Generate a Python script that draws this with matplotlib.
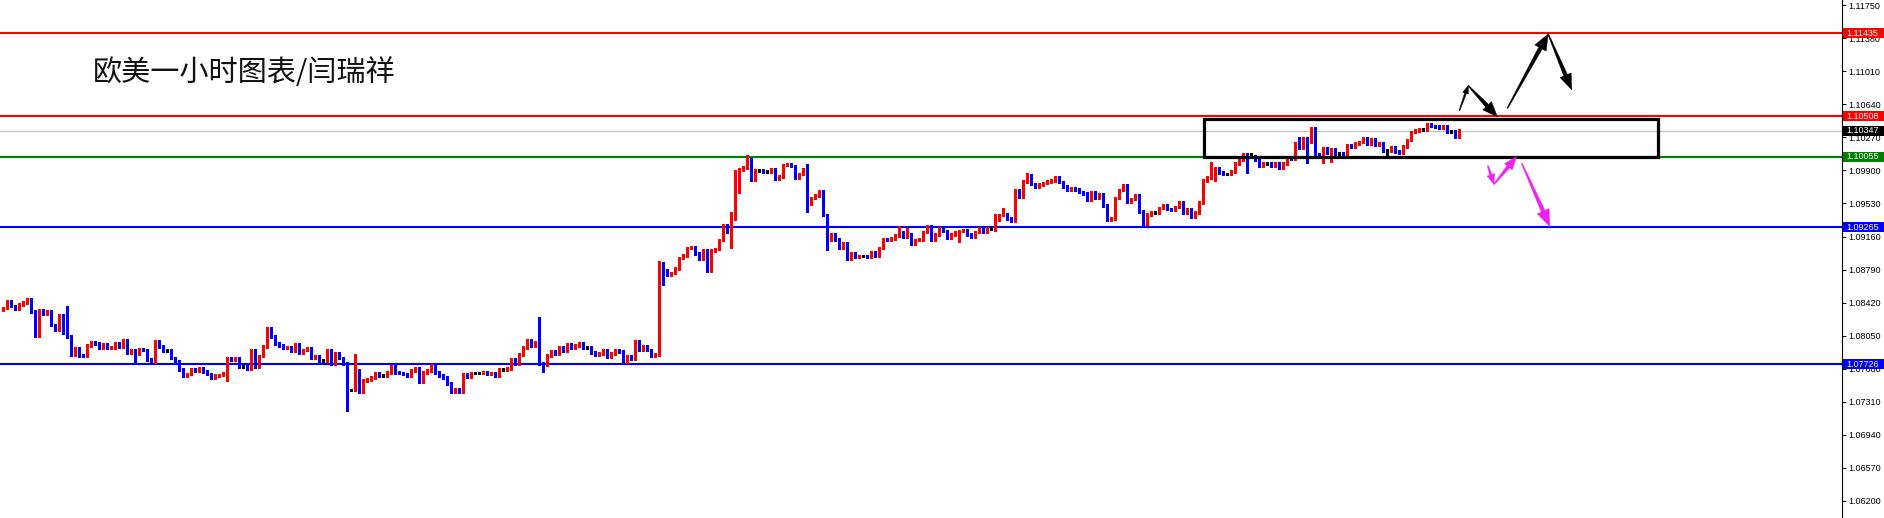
import numpy as np
import matplotlib
matplotlib.use("Agg")
import matplotlib.pyplot as plt
from matplotlib.patches import Polygon, Rectangle
from matplotlib.transforms import IdentityTransform, blended_transform_factory

plt.rcParams['font.family'] = ['Noto Sans CJK SC', 'DejaVu Sans']

title = "欧美一小时图表/闫瑞祥"

# EURUSD H1 closes in pips (10836 -> 1.0836), open = previous close
first_open = 10834
closes_a = [10836, 10843, 10838, 10835, 10840, 10842, 10846, 10832, 10805, 10833,
            10830, 10832, 10817, 10812, 10828, 10808, 10804, 10784, 10791, 10783,
            10782, 10794, 10797, 10796, 10792, 10795, 10791, 10792, 10796, 10793,
            10800, 10786, 10789, 10785, 10790, 10789, 10778, 10776, 10798, 10793,
            10788, 10788, 10780, 10776, 10767, 10760, 10762, 10767, 10766, 10768,
            10765, 10762, 10758, 10760, 10761, 10763, 10780, 10778, 10779, 10770,
            10770, 10768, 10789, 10770, 10782, 10793, 10813, 10804, 10796, 10794,
            10791, 10792, 10788, 10795, 10786]
closes_b = [10789, 10791, 10780, 10782, 10777, 10777, 10789, 10774, 10785, 10780,
            10774, 10744, 10744, 10766, 10742, 10755, 10756, 10758, 10763, 10760,
            10760, 10764, 10771, 10764, 10763, 10762, 10760, 10766, 10768, 10753,
            10764, 10766, 10772, 10764, 10760, 10758, 10751, 10742, 10745, 10742,
            10762, 10759, 10763, 10763, 10763, 10764, 10762, 10763, 10760, 10767,
            10767, 10768, 10778, 10774, 10784, 10792, 10800, 10794, 10797, 10774,
            10772, 10783, 10787, 10785, 10792, 10788, 10795, 10792, 10794, 10796,
            10792, 10792]
closes_c = [10786, 10784, 10785, 10789, 10781, 10785, 10788, 10787, 10776, 10782,
            10779, 10799, 10789, 10793, 10789, 10782, 10784, 10886, 10878, 10873,
            10875, 10880, 10892, 10895, 10903, 10904, 10897, 10891, 10900, 10878,
            10900, 10902, 10912, 10928, 10921, 10942, 10989, 10991, 10993, 11002,
            10980, 10990, 10990, 10989, 10989, 10991, 10981, 10983, 10996, 10997,
            10995, 10982, 10986, 10991, 10953, 10959, 10962, 10967, 10940, 10913,
            10918, 10913, 10904, 10908, 10891, 10897, 10893, 10894, 10894, 10893,
            10898, 10895, 10903]
closes_d = [10913, 10912, 10914, 10917, 10921, 10916, 10918, 10908, 10912, 10913,
            10921, 10927, 10912, 10918, 10925, 10922, 10915, 10918, 10921, 10922,
            10923, 10918, 10916, 10921, 10925, 10921, 10925, 10925, 10935, 10940,
            10941, 10936, 10934, 10968, 10961, 10978, 10984, 10975, 10972, 10974,
            10976, 10978, 10979, 10982, 10977, 10972, 10968, 10970, 10969, 10966,
            10964, 10957, 10966, 10959, 10963, 10951, 10935, 10936, 10959, 10968,
            10973, 10955, 10958, 10962, 10944, 10930, 10941, 10943, 10943, 10948,
            10951, 10947, 10946, 10949, 10954, 10943, 10946, 10938, 10943, 10954]
closes_e = [10979, 10982, 10990, 10992, 10988, 10986, 10986, 10989, 10998, 11002,
            11008, 11006, 11006, 11002, 10995, 10998, 10998, 10995, 10998, 10993,
            10998, 11004, 11003, 11018, 11016, 11026, 11022, 11037, 11008, 11006,
            11015, 11010, 11014, 11009, 11009, 11007, 11018, 11017, 11020, 11022,
            11026, 11020, 11025, 11019, 11020, 11012, 11012, 11016, 11011, 11010,
            11017, 11024, 11033, 11035, 11036, 11036, 11042, 11040, 11039, 11038,
            11040, 11034, 11034, 11028, 11035]

# long wicks (candle number, price in pips)
upper_spikes = [(17, 10838), (89, 10784), (135, 10826), (165, 10889), (187, 11007),
                (202, 10997), (225, 10928), (227, 10925), (232, 10929), (249, 10941),
                (251, 10948), (257, 10987), (282, 10974), (303, 11000), (313, 11010),
                (324, 11022), (325, 11027), (328, 11039), (329, 11038)]
lower_spikes = [(34, 10774), (57, 10754), (87, 10721), (136, 10764), (166, 10862),
                (183, 10903), (184, 10934), (185, 10965), (202, 10944), (207, 10901),
                (240, 10910), (249, 10922), (286, 10928), (304, 10978), (312, 10987),
                (327, 10998), (331, 10998), (333, 11000), (347, 11005)]

levels = [1.11435, 1.10508, 1.10055, 1.09265, 1.07726]
level_colors = ['#ff0000', '#ff0000', '#008000', '#0000ff', '#0000ff']
last_price = 1.10347
tick_values = [1.06200, 1.06570, 1.06940, 1.07310, 1.07680, 1.08050, 1.08420, 1.08790,
               1.09160, 1.09530, 1.09900, 1.10270, 1.10640, 1.11010, 1.11380, 1.11750]

closes = np.array(closes_a + closes_b + closes_c + closes_d + closes_e) / 10000
opens = np.r_[first_open / 10000, closes[:-1]]
highs = np.maximum(opens, closes) + 0.00015
lows = np.minimum(opens, closes) - 0.00015
for k, v in upper_spikes:
    highs[k - 1] = max(highs[k - 1], v / 10000)
for k, v in lower_spikes:
    lows[k - 1] = min(lows[k - 1], v / 10000)

W, H, DPI = 1884, 518, 100
AX_W = 1842
fig = plt.figure(figsize=(W / DPI, H / DPI), dpi=DPI, facecolor='white')
ax = fig.add_axes([0, 0, AX_W / W, 1])
ax.set_xlim(-0.75, 459.75)
ax.set_ylim(1.06006, 1.11810)
px_y = (1.11810 - 1.06006) / H  # price per pixel

x = np.arange(len(closes))
col = np.where(closes > opens, '#ff0000', np.where(closes < opens, '#0000ff', '#000000'))
ax.vlines(x, lows, highs, colors=col, lw=0.75, zorder=3, antialiased=False)
ax.bar(x, np.maximum(np.abs(closes - opens), px_y), bottom=np.minimum(opens, closes),
       width=0.75, color=col, linewidth=0, zorder=4, antialiased=False)

for lv, c in zip(levels, level_colors):
    ax.axhline(lv, color=c, lw=1.5, zorder=2)
ax.axhline(last_price, color='#c0c0c0', lw=0.8, zorder=1)

ax.add_patch(Rectangle((300.25, 1.10052), 113.5, 0.00426, fill=False,
                       ec='black', lw=2.3, zorder=6))

# price scale
for s in ('left', 'top', 'bottom'):
    ax.spines[s].set_visible(False)
ax.spines['right'].set_linewidth(0.8)
ax.set_xticks([])
ax.yaxis.tick_right()
ax.set_yticks(tick_values)
ax.set_yticklabels([f"{v:.5f}" for v in tick_values], family='Liberation Sans')
ax.tick_params(axis='y', direction='out', length=3, width=0.7, labelsize=6.5, pad=1.5)

tr = blended_transform_factory(ax.transAxes, ax.transData)
tags = list(zip(levels, level_colors)) + [(last_price, '#000000')]
for lv, c in tags:
    ax.add_patch(Rectangle((1843 / AX_W, lv - 5 * px_y), 41 / AX_W, 10 * px_y,
                           transform=tr, fc=c, ec='none', clip_on=False, zorder=9))
    ax.text(1846 / AX_W, lv, f"{lv:.5f}", transform=tr, ha='left', va='center',
            color='white', fontsize=6.5, family='Liberation Sans', clip_on=False, zorder=10)

fig.text(93 / W, 1 - 73 / H, title, fontsize=21, va='center', ha='left', color='#111111')


def arrow(p0, p1, color, tw0, tw1, hw, hl):
    a = ax.transData.transform(p0)
    b = ax.transData.transform(p1)
    d = b - a
    u = d / np.hypot(*d)
    n = np.array([-u[1], u[0]])
    base = b - u * hl
    pts = [a + n * tw0 / 2, base + n * tw1 / 2, base + n * hw / 2, b,
           base - n * hw / 2, base - n * tw1 / 2, a - n * tw0 / 2]
    ax.add_patch(Polygon(pts, closed=True, fc=color, ec=color, lw=0.3,
                         transform=IdentityTransform(), clip_on=False, zorder=8))


blk, mag = '#000000', '#ee22ee'
arrow((364.1, 1.10570), (366.3, 1.10850), blk, 0.8, 2, 6, 8)
arrow((366.3, 1.10850), (373.6, 1.10503), blk, 1, 4, 12, 15)
arrow((376.1, 1.10597), (386.3, 1.11429), blk, 1, 4, 13, 16)
arrow((386.3, 1.11429), (392.2, 1.10802), blk, 1, 4, 12, 16)
arrow((371.2, 1.09954), (372.75, 1.09745), mag, 1, 2.5, 8, 10)
arrow((372.75, 1.09745), (378.4, 1.10054), mag, 1, 3.5, 10, 13)
arrow((379.7, 1.09980), (386.75, 1.09270), mag, 1, 4, 13, 17)

ax.set_xlim(-0.75, 459.75)
ax.set_ylim(1.06006, 1.11810)
fig.savefig('out.png', dpi=DPI, facecolor='white')
